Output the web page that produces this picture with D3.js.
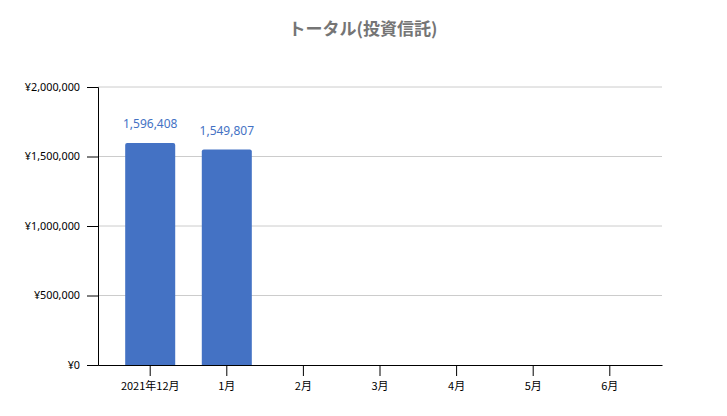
<!DOCTYPE html>
<html>
<head>
<meta charset="utf-8">
<script src="https://cdn.jsdelivr.net/npm/d3@7"></script>
<style>
  body { margin: 0; background: #fff; }
  text { font-family: "Noto Sans CJK JP", "Noto Sans", sans-serif; }
</style>
</head>
<body>
<div id="chart"></div>
<script>
// data
const months = ['2021年12月', '1月', '2月', '3月', '4月', '5月', '6月'];
const totals = [1596408, 1549807, null, null, null, null, null];
const yTicks = [0, 500000, 1000000, 1500000, 2000000];

const width = 727;
const height = 416;
const margin = {top: 87, right: 65, bottom: 51, left: 98};

const svg = d3.select('#chart').append('svg')
    .attr('width', width)
    .attr('height', height);

// title
svg.append('text')
    .attr('x', 363)
    .attr('y', 35)
    .attr('text-anchor', 'middle')
    .style('font-size', '17px')
    .style('font-weight', 'bold')
    .style('fill', '#757575')
    .text('トータル(投資信託)');

const x = d3.scaleBand()
    .domain(months)
    .range([margin.left, width - margin.right])
    .paddingInner(0.347)
    .paddingOuter(0.355);

const y = d3.scaleLinear()
    .domain([0, 2000000])
    .range([height - margin.bottom, margin.top]);

// gridlines
svg.append('g')
    .selectAll('line')
    .data(yTicks.filter(d => d > 0))
    .enter().append('line')
    .attr('x1', margin.left)
    .attr('x2', width - margin.right)
    .attr('y1', d => y(d))
    .attr('y2', d => y(d))
    .attr('stroke', '#cccccc')
    .attr('stroke-width', 1);

// y axis
const yAxis = svg.append('g')
    .attr('transform', `translate(${margin.left},0)`)
    .call(d3.axisLeft(y)
        .tickValues(yTicks)
        .tickSize(11)
        .tickPadding(7)
        .tickFormat(d => '¥' + d3.format(',')(d)));
yAxis.select('.domain').attr('stroke', '#000');
yAxis.selectAll('.tick line').attr('stroke', '#000');
yAxis.selectAll('text').style('font-size', '10.8px').style('fill', '#000')
    .style('font-family', '"Noto Sans", sans-serif');

// bars, rounded top corners
const r = 2;
svg.append('g')
    .selectAll('path')
    .data(months.map((m, i) => ({month: m, value: totals[i]})).filter(d => d.value != null))
    .enter().append('path')
    .attr('fill', '#4472C4')
    .attr('d', d => {
        const x0 = x(d.month), w = x.bandwidth();
        const y0 = y(d.value), yb = y(0);
        return `M${x0},${yb}V${y0 + r}Q${x0},${y0} ${x0 + r},${y0}H${x0 + w - r}Q${x0 + w},${y0} ${x0 + w},${y0 + r}V${yb}Z`;
    });

// value labels
svg.append('g')
    .selectAll('text')
    .data(months.map((m, i) => ({month: m, value: totals[i]})).filter(d => d.value != null))
    .enter().append('text')
    .attr('x', d => x(d.month) + x.bandwidth() / 2)
    .attr('y', d => y(d.value) - 15)
    .attr('text-anchor', 'middle')
    .style('font-size', '12px')
    .style('fill', '#4472C4')
    .style('font-family', '"Noto Sans", sans-serif')
    .text(d => d3.format(',')(d.value));

// x axis
const xAxis = svg.append('g')
    .attr('transform', `translate(0,${height - margin.bottom})`)
    .call(d3.axisBottom(x).tickSize(11).tickPadding(6).tickSizeOuter(0));
xAxis.select('.domain').attr('stroke', '#000');
xAxis.selectAll('.tick line').attr('stroke', '#000');
xAxis.selectAll('text').style('font-size', '11px').style('fill', '#000');
</script>
</body>
</html>
